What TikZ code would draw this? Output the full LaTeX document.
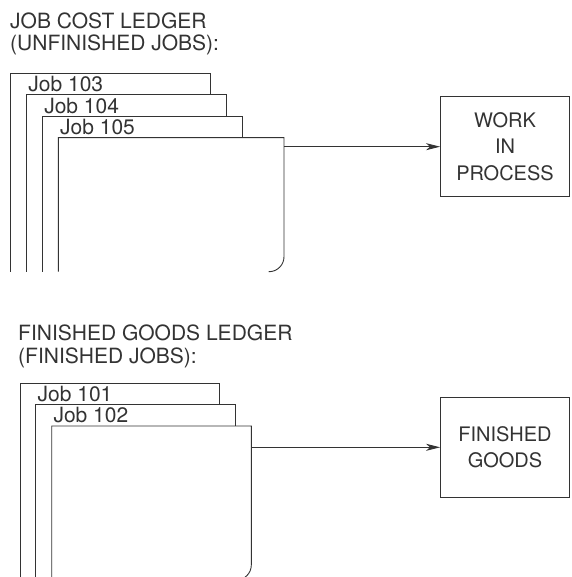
\documentclass[tikz,border=0pt]{standalone}
\usepackage{fontspec}
\setmainfont{TeX Gyre Heros}
\usepackage{xcolor}
\usetikzlibrary{arrows.meta}
\definecolor{ink}{HTML}{333333}

\begin{document}
\begin{tikzpicture}[
  x=1pt,y=-1pt,
  card/.style={draw=ink,line width=0.9pt},
  joblbl/.style={anchor=base west,inner sep=0pt,text=ink,
                 font=\fontsize{21}{22}\selectfont},
  title/.style={anchor=base west,inner sep=0pt,align=left,text=ink,
                font=\fontsize{21}{22.3}\selectfont},
  acct/.style={draw=ink,line width=0.9pt,minimum width=129pt,minimum height=100pt,
               align=center,inner sep=0pt,text=ink,font=\fontsize{20}{26.5}\selectfont},
  arr/.style={-{Stealth[length=14pt,width=7pt,inset=4pt]},draw=ink,line width=0.9pt}
]
\clip (0,0) rectangle (571,577);
% job cost ledger
\node[title] (jcl-title) at (10,50.6) {JOB COST LEDGER\\(UNFINISHED JOBS):};
\foreach \i/\job in {0/103,1/104,2/105} {
  \pgfmathsetmacro\xl{10.7+15.9*\i}
  \pgfmathsetmacro\yt{73.3+21.5*\i}
  \pgfmathsetmacro\xr{210+16*\i}
  \draw[card] (\xl,271.7) -- (\xl,\yt) -- (\xr,\yt) -- (\xr,\yt+21.5);
  \node[joblbl] (job\job) at (\xl+17.5,\yt+18.5) {Job \job};
}
\draw[card] (58.3,271.7) -- (58.3,137.7) -- (284,137.7) -- (284,200)
  [rounded corners=15pt] -- (284,271.7) -- (268.5,271.7);
\coordinate (jcl-out) at (284,146.7);
\node[acct] (wip) at (505,146.7) {WORK\\IN\\PROCESS};
\draw[arr] (jcl-out) -- (wip);
% finished goods ledger
\node[title] (fgl-title) at (18,363) {FINISHED GOODS LEDGER\\(FINISHED JOBS):};
\foreach \i/\job in {0/101,1/102} {
  \pgfmathsetmacro\xl{20+15.8*\i}
  \pgfmathsetmacro\yt{383.3+21.3*\i}
  \pgfmathsetmacro\xr{219.3+16*\i}
  \draw[card] (\xl,580) -- (\xl,\yt) -- (\xr,\yt) -- (\xr,\yt+21.3);
  \node[joblbl] (job\job) at (\xl+17.5,\yt+17.7) {Job \job};
}
\draw[card] (51.7,580) -- (51.7,426) -- (251.3,426) -- (251.3,500)
  [rounded corners=15pt] -- (251.3,580) -- (235,580);
\coordinate (fgl-out) at (251.3,447.3);
\node[acct] (fg) at (505,447.3) {FINISHED\\GOODS};
\draw[arr] (fgl-out) -- (fg);
\end{tikzpicture}
\end{document}
